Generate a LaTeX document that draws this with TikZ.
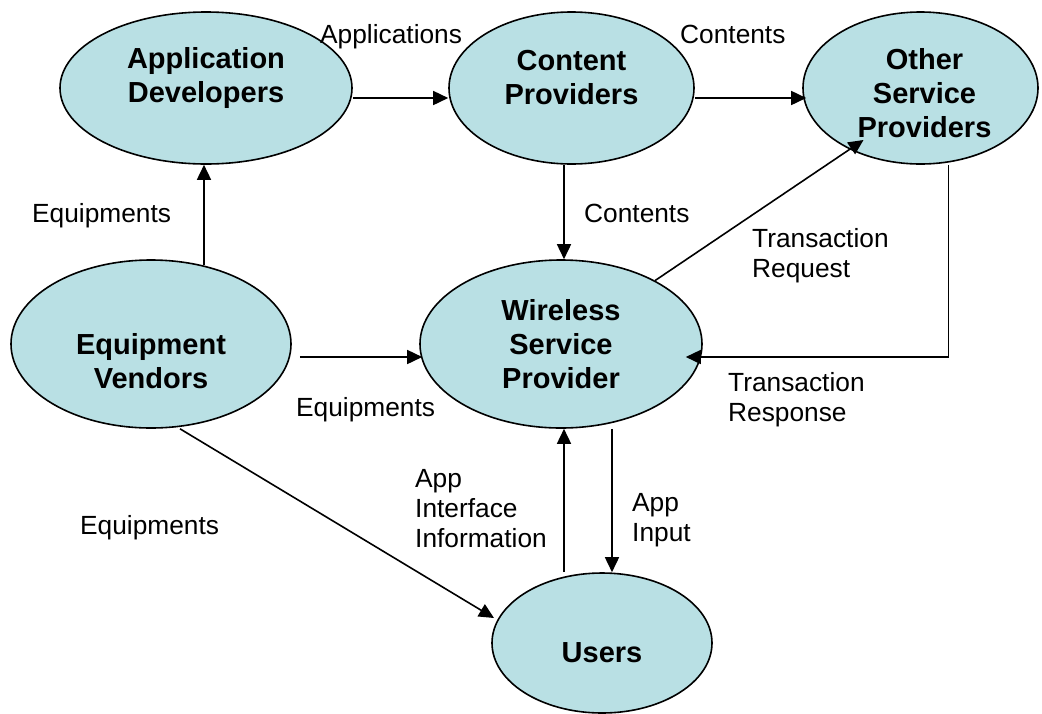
\documentclass[tikz,border=0pt]{standalone}
\usepackage{fontspec}
\setmainfont{Liberation Sans}
\usetikzlibrary{shapes.geometric,arrows.meta}
\definecolor{nodefill}{RGB}{185,224,228}
\tikzset{
  blob/.style={ellipse, draw=black, line width=1.6pt, fill=nodefill, inner sep=0pt},
  ntext/.style={font=\bfseries\fontsize{29}{34}\selectfont, align=center, inner sep=0pt},
  lab/.style={font=\fontsize{26.3}{30}\selectfont, align=left, inner sep=0pt, anchor=west},
  arr/.style={-{Triangle[length=15pt,width=14pt]}, line width=1.6pt},
  ln/.style={line width=1.6pt}
}
\begin{document}
\begin{tikzpicture}[x=1pt,y=-1pt]
\useasboundingbox (0,0) rectangle (1042,713);
% ellipses
\node[blob, minimum width=292pt, minimum height=152pt] (ad) at (206,88) {};
\node[blob, minimum width=245pt, minimum height=152pt] (cp) at (571.5,88) {};
\node[blob, minimum width=235pt, minimum height=152pt] (osp) at (920.5,88) {};
\node[blob, minimum width=280pt, minimum height=168pt] (ev) at (151,344) {};
\node[blob, minimum width=282pt, minimum height=168pt] (wsp) at (561,344) {};
\node[blob, minimum width=220pt, minimum height=140pt] (users) at (602,643) {};
% node texts
\node[ntext] (adtxt) at ([yshift=10pt]ad.center) {Application\\Developers};
\node[ntext] (cptxt) at ([yshift=10pt]cp.center) {Content\\Providers};
\node[ntext] (osptxt) at ([xshift=4pt,yshift=-5pt]osp.center) {Other\\Service\\Providers};
\node[ntext] (evtxt) at ([yshift=-17pt]ev.center) {Equipment\\Vendors};
\node[ntext] (wsptxt) at (wsp.center) {Wireless\\Service\\Provider};
\node[ntext] (userstxt) at ([yshift=-10pt]users.center) {Users};
% connectors
\draw[arr] (ev.56) -- (ev.56 |- ad.south);
\draw[arr] ([yshift=-10pt]ad.east) -- ([yshift=-10pt]cp.west);
\draw[arr] ([yshift=-10pt]cp.east) -- ([yshift=-10pt,xshift=4pt]osp.west);
\draw[arr] ([xshift=3pt]wsp.north |- cp.south) -- ([xshift=3pt]wsp.north);
\draw[arr] (wsp.34) -- ([shift={(-57,52)}]osp.center);
\draw[arr] ([xshift=28pt]osp.south) |- ([xshift=-17pt,yshift=-13pt]wsp.east);
\draw[arr] ([xshift=8pt,yshift=-13pt]ev.east) -- ([xshift=3pt,yshift=-13pt]wsp.west);
\draw[arr] ([xshift=29pt]ev.south) -- ([shift={(-108,-25)}]users.center);
\draw[arr] ([xshift=-38pt]users.north) -- ([xshift=3pt]wsp.south);
\draw[arr] ([xshift=51pt]wsp.south) -- ([xshift=10pt]users.north);
% labels
\node[lab] (l1) at (320,37) {Applications};
\node[lab] (l2) at (680,34) {Contents};
\node[lab] (l3) at (32,216) {Equipments};
\node[lab] (l4) at (584,213) {Contents};
\node[lab] (l5) at (752,256) {Transaction\\Request};
\node[lab] (l6) at (296,410) {Equipments};
\node[lab] (l7) at (728,400) {Transaction\\Response};
\node[lab] (l8) at (80,528) {Equipments};
\node[lab] (l9) at (415,509) {App\\Interface\\Information};
\node[lab] (l10) at (632,520) {App\\Input};
\end{tikzpicture}
\end{document}
